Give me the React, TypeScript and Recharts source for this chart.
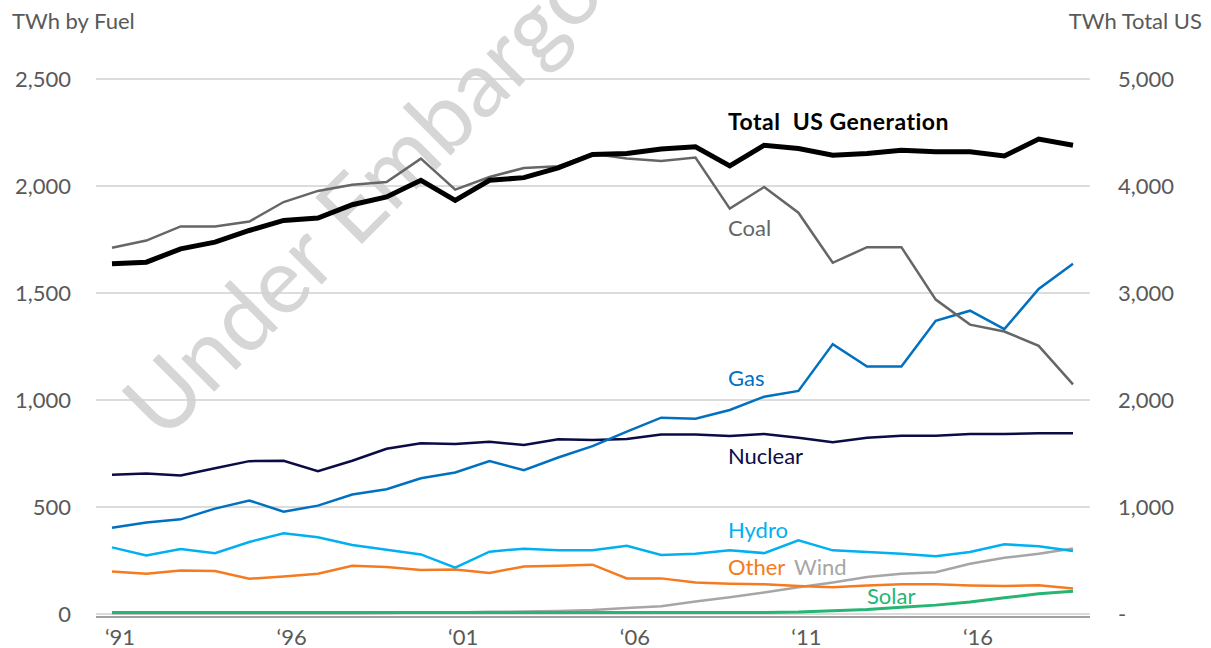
import React from 'react'
import { LineChart, Line, XAxis, YAxis, CartesianGrid } from 'recharts'

// TWh per year, 1991-2019
const years = [
  1991, 1992, 1993, 1994, 1995, 1996, 1997, 1998, 1999, 2000,
  2001, 2002, 2003, 2004, 2005, 2006, 2007, 2008, 2009, 2010,
  2011, 2012, 2013, 2014, 2015, 2016, 2017, 2018, 2019,
]
const totalUS = [
  3272, 3288, 3412, 3475, 3584, 3678, 3700, 3825, 3897, 4053,
  3866, 4053, 4078, 4169, 4294, 4303, 4345, 4366, 4188, 4381,
  4350, 4288, 4303, 4334, 4319, 4319, 4281, 4438, 4381,
]
const coal = [
  1711, 1745, 1811, 1811, 1834, 1925, 1977, 2006, 2019, 2128,
  1983, 2042, 2084, 2092, 2150, 2128, 2117, 2133, 1894, 1995,
  1875, 1641, 1714, 1714, 1469, 1352, 1320, 1253, 1073,
]
const gas = [
  403, 427, 442, 492, 530, 478, 506, 558, 583, 634,
  661, 714, 672, 731, 784, 852, 917, 912, 953, 1015,
  1042, 1261, 1156, 1156, 1370, 1417, 1331, 1519, 1636,
]
const nuclear = [
  650, 656, 647, 681, 714, 716, 667, 716, 772, 798,
  794, 805, 789, 816, 813, 818, 839, 839, 831, 841,
  823, 802, 823, 833, 833, 841, 841, 844, 844,
]
const hydro = [
  311, 273, 303, 284, 336, 377, 358, 322, 300, 278,
  216, 291, 305, 297, 297, 318, 275, 281, 297, 284,
  344, 297, 289, 281, 270, 289, 325, 316, 294,
]
const other = [
  198, 188, 203, 200, 164, 175, 188, 225, 219, 205,
  208, 191, 222, 225, 230, 166, 166, 147, 141, 138,
  130, 125, 133, 139, 138, 133, 130, 134, 119,
]
const wind = [
  3, 3, 3, 3, 3, 3, 3, 3, 4, 6,
  7, 10, 11, 14, 18, 27, 36, 58, 78, 100,
  125, 147, 172, 188, 195, 234, 262, 281, 306,
]
const solar = [
  6, 6, 6, 6, 6, 6, 6, 6, 6, 6,
  6, 6, 6, 6, 6, 6, 6, 6, 7, 7,
  9, 15, 20, 31, 41, 56, 75, 94, 106,
]

const fuelTicks = [0, 500, 1000, 1500, 2000, 2500]
const totalTicks = [0, 1000, 2000, 3000, 4000, 5000]

const data = years.map((year, i) => ({
  year,
  total: totalUS[i],
  coal: coal[i],
  gas: gas[i],
  nuclear: nuclear[i],
  hydro: hydro[i],
  other: other[i],
  wind: wind[i],
  solar: solar[i],
}))

const FONT = 'Lato, "Open Sans", sans-serif'
const AXIS_GREY = '#595959'

const C = {
  total: '#000000',
  coal: '#666666',
  gas: '#0070C0',
  nuclear: '#0B0B45',
  hydro: '#00B0F0',
  other: '#F47B20',
  wind: '#A6A6A6',
  solar: '#26B573',
}

const fmt = (v: number) => v.toLocaleString('en-US')
const fmtRight = (v: number) => (v === 0 ? '-' : v.toLocaleString('en-US'))
const fmtYear = (y: number) => '\u2018' + String(y).slice(2)

export default function App() {
  const tickStyle = { fill: AXIS_GREY, fontSize: 22, fontFamily: FONT }

  return (
    <div style={{ position: 'absolute', left: 0, top: 0, width: 1211, height: 648, background: '#fff' }}>
      {/* watermark sits behind the lines */}
      <svg width={1211} height={648} style={{ position: 'absolute', left: 0, top: 0 }}>
        <text
          x={163}
          y={443}
          transform="rotate(-45 163 443)"
          fontSize={92}
          fontFamily={FONT}
          fill="#d6d6d6"
        >
          Under Embargo
        </text>
      </svg>

      <div style={{ position: 'absolute', left: 0, top: 0 }}>
        {/* axis line sits a few px under the zero, as in the source */}
        <LineChart width={1211} height={648} data={data} margin={{ top: 79, right: 0, bottom: 0, left: 0 }}>
          <CartesianGrid yAxisId="left" vertical={false} stroke="#d0d0d0" strokeWidth={1.5} />
          <XAxis
            dataKey="year"
            interval={4}
            tickFormatter={fmtYear}
            padding={{ left: 16, right: 17 }}
            height={31}
            tickLine={false}
            tickSize={0}
            tickMargin={12}
            axisLine={{ stroke: '#8c8c8c', strokeWidth: 1.5 }}
            tick={{ ...tickStyle, dx: 8 }}
          />
          <YAxis
            yAxisId="left"
            domain={[-14.5, 2500]}
            ticks={fuelTicks}
            tickFormatter={fmt}
            width={96}
            axisLine={false}
            tickLine={false}
            tickSize={0}
            tickMargin={25}
            tick={tickStyle}
          />
          <YAxis
            yAxisId="right"
            orientation="right"
            domain={[-29, 5000]}
            ticks={totalTicks}
            tickFormatter={fmtRight}
            width={121}
            axisLine={false}
            tickLine={false}
            tickSize={0}
            tickMargin={28}
            tick={{ ...tickStyle, textAnchor: 'start' }}
          />
          <Line yAxisId="left" type="linear" dataKey="wind" stroke={C.wind} strokeWidth={2.5} dot={false} isAnimationActive={false} />
          <Line yAxisId="left" type="linear" dataKey="solar" stroke={C.solar} strokeWidth={3} dot={false} isAnimationActive={false} />
          <Line yAxisId="left" type="linear" dataKey="other" stroke={C.other} strokeWidth={2.5} dot={false} isAnimationActive={false} />
          <Line yAxisId="left" type="linear" dataKey="hydro" stroke={C.hydro} strokeWidth={2.5} dot={false} isAnimationActive={false} />
          <Line yAxisId="left" type="linear" dataKey="nuclear" stroke={C.nuclear} strokeWidth={2.5} dot={false} isAnimationActive={false} />
          <Line yAxisId="left" type="linear" dataKey="gas" stroke={C.gas} strokeWidth={2.5} dot={false} isAnimationActive={false} />
          <Line yAxisId="left" type="linear" dataKey="coal" stroke={C.coal} strokeWidth={2.5} dot={false} isAnimationActive={false} />
          <Line yAxisId="right" type="linear" dataKey="total" stroke={C.total} strokeWidth={5} dot={false} isAnimationActive={false} />
        </LineChart>
      </div>

      {/* titles and series labels */}
      <svg width={1211} height={648} style={{ position: 'absolute', left: 0, top: 0, pointerEvents: 'none' }}>
        <g fontFamily={FONT} fontSize={22}>
          <text x={12} y={29} fill={AXIS_GREY}>TWh by Fuel</text>
          <text x={1202} y={29} fill={AXIS_GREY} textAnchor="end">TWh Total US</text>
          <text x={728} y={130} fill="#000" fontSize={23} fontWeight={700} letterSpacing={0.5} style={{ whiteSpace: 'pre' }}>
            Total  US Generation
          </text>
          <text x={728} y={236} fill={C.coal}>Coal</text>
          <text x={728} y={386} fill={C.gas}>Gas</text>
          <text x={728} y={464} fill={C.nuclear}>Nuclear</text>
          <text x={728} y={538} fill={C.hydro}>Hydro</text>
          <text x={728} y={575} fill={C.other}>Other</text>
          <text x={794} y={575} fill={C.wind}>Wind</text>
          <text x={867} y={604} fill={C.solar}>Solar</text>
        </g>
      </svg>
    </div>
  )
}
